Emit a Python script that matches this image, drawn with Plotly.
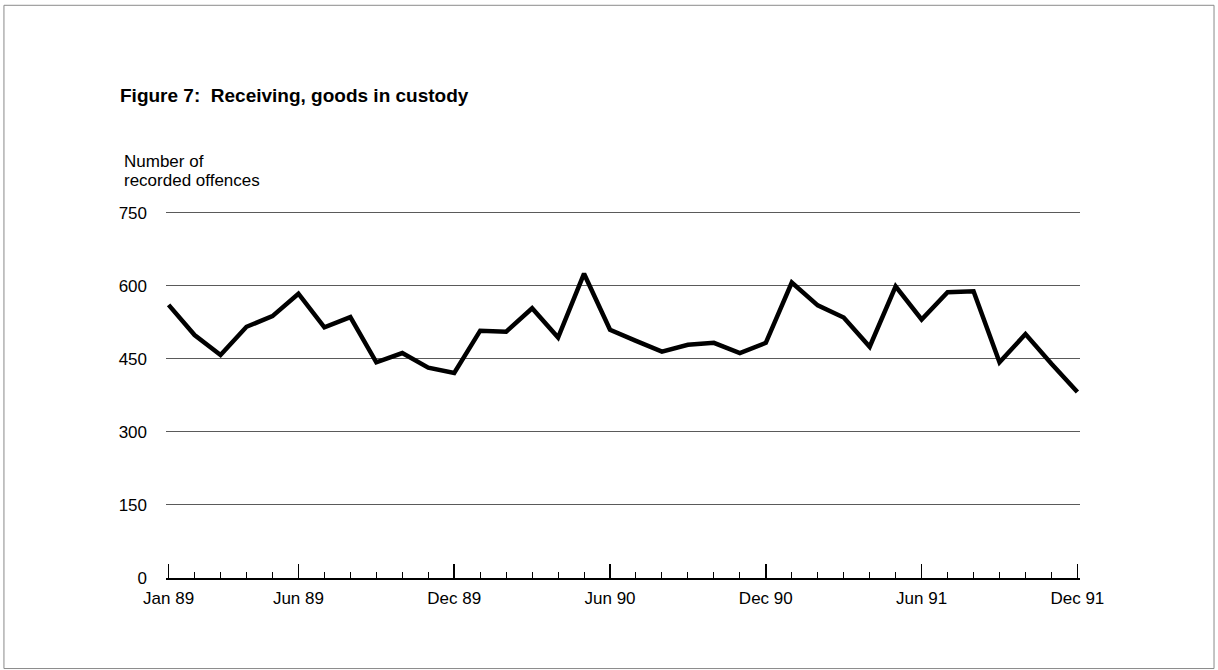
import plotly.graph_objects as go

months = ["Jan 89", "Feb 89", "Mar 89", "Apr 89", "May 89", "Jun 89",
          "Jul 89", "Aug 89", "Sep 89", "Oct 89", "Nov 89", "Dec 89",
          "Jan 90", "Feb 90", "Mar 90", "Apr 90", "May 90", "Jun 90",
          "Jul 90", "Aug 90", "Sep 90", "Oct 90", "Nov 90", "Dec 90",
          "Jan 91", "Feb 91", "Mar 91", "Apr 91", "May 91", "Jun 91",
          "Jul 91", "Aug 91", "Sep 91", "Oct 91", "Nov 91", "Dec 91"]
offences = [561, 499, 458, 516, 538, 584, 515, 536, 443, 462, 432, 421,
            508, 506, 554, 494, 625, 510, 487, 465, 479, 483, 462, 483,
            607, 560, 535, 475, 599, 531, 587, 589, 443, 501, 440, 382]
tick_labels = ["Jan 89", "Jun 89", "Dec 89", "Jun 90", "Dec 90", "Jun 91", "Dec 91"]
y_ticks = [0, 150, 300, 450, 600, 750]

x_idx = list(range(len(months)))
tick_pos = [months.index(t) for t in tick_labels]

W, H = 1218, 670
# axis pixel anchors in the reference: x 0 -> 169 px, x 35 -> 1077 px; y 0 -> 578 px, y 750 -> 213 px
pad_x = 0.1
k = (1077 - 169) / 35
L = 169 - pad_x * k
R = W - (1077 + pad_x * k)
y_top = 760
T = 578 - (578 - 213) * y_top / 750
B = H - 578
pw, ph = W - L - R, H - T - B

def px_x(p):
    return (p - L) / pw

def px_y(p):
    return (H - B - p) / ph

font = "Liberation Sans, Arial, Helvetica, sans-serif"

fig = go.Figure()
fig.add_trace(go.Scatter(
    x=x_idx, y=offences, mode="lines",
    line=dict(color="black", width=4.5),
    hoverinfo="skip", showlegend=False,
))

fig.update_layout(
    width=W, height=H,
    margin=dict(l=L, r=R, t=T, b=B, pad=0),
    paper_bgcolor="white", plot_bgcolor="white",
    showlegend=False,
    xaxis=dict(
        range=[-pad_x, 35 + pad_x], showgrid=False, zeroline=False,
        showline=True, linecolor="black", linewidth=1.5,
        tickmode="array", tickvals=tick_pos, ticktext=tick_labels,
        ticks="inside", ticklen=14, tickwidth=1.5, tickcolor="black",
        tickfont=dict(family=font, size=17, color="black"),
        ticklabelstandoff=4,
        minor=dict(ticks="inside", ticklen=6, tickwidth=1, tickcolor="black",
                   dtick=1, tick0=0, showgrid=False),
    ),
    yaxis=dict(
        range=[0, y_top], tickmode="array", tickvals=y_ticks,
        showgrid=True, gridcolor="#5a5a5a", gridwidth=1,
        zeroline=False, showline=False, ticks="",
        tickfont=dict(family=font, size=17, color="black"),
        ticklabelstandoff=18,
    ),
)

fig.add_annotation(
    xref="paper", yref="paper", x=px_x(118), y=px_y(96),
    xanchor="left", yanchor="middle", showarrow=False,
    text="<b>Figure 7:\u00a0\u00a0Receiving, goods in custody</b>",
    font=dict(family=font, size=19, color="black"),
)
fig.add_annotation(
    xref="paper", yref="paper", x=px_x(122), y=px_y(162),
    xanchor="left", yanchor="middle", showarrow=False, align="left",
    text="Number of",
    font=dict(family=font, size=17, color="black"),
)
fig.add_annotation(
    xref="paper", yref="paper", x=px_x(122), y=px_y(181),
    xanchor="left", yanchor="middle", showarrow=False, align="left",
    text="recorded offences",
    font=dict(family=font, size=17, color="black"),
)
fig.add_shape(
    type="rect", xref="paper", yref="paper",
    x0=px_x(4.5), x1=px_x(1213.5), y0=px_y(668.5), y1=px_y(5.5),
    line=dict(color="#8a8a8a", width=1), fillcolor="rgba(0,0,0,0)",
    layer="below",
)

fig.write_html("out.html",
               config={"displayModeBar": False, "staticPlot": True},
               post_script="document.body.style.margin='0px';document.body.style.overflow='hidden';")
